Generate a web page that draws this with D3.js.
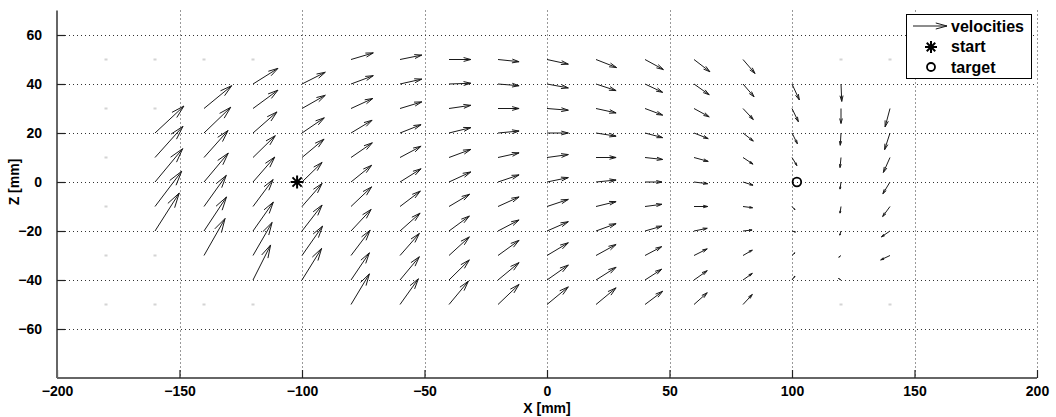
<!DOCTYPE html>
<html>
<head>
<meta charset="utf-8">
<style>
  body { margin: 0; background: #fff; }
  svg { display: block; font-family: 'Liberation Sans', Arial, sans-serif; }
  .tick-label { font-size: 14px; font-weight: bold; fill: #000; }
  .axis-title { font-size: 14px; font-weight: bold; fill: #000; }
  .legend-text { font-size: 16px; font-weight: bold; fill: #000; }
</style>
</head>
<body>
<svg width="1056" height="417"></svg>
<script src="https://d3js.org/d3.v7.min.js"></script>
<script>
// grid positions (mm)
let xs = [-180, -160, -140, -120, -100, -80, -60, -40, -20, 0, 20, 40, 60, 80, 100, 120, 140];
let zs = [50, 40, 30, 20, 10, 0, -10, -20, -30, -40, -50];

// drawn velocity components, one row per x column, entries follow zs
let U = [
  [0, 0, 0, 0, 0, 0, 0, 0, 0, 0, 0],
  [0, 0, 0, 11.8, 11.4, 11.3, 10.9, 9.9, 0, 0, 0],
  [0, 0, 11.3, 10.9, 9.8, 9.9, 9.1, 9.2, 8.6, 0, 0],
  [0, 10.2, 10.2, 9.8, 9.1, 8.9, 8.2, 8.3, 7.8, 7.2, 0],
  [0, 9.5, 9.5, 9.1, 9.0, 8.2, 8.2, 8.2, 8.4, 8.0, 0],
  [9.1, 9.1, 8.9, 8.6, 8.7, 8.4, 8.4, 8.2, 7.8, 7.5, 7.5],
  [8.9, 8.9, 8.9, 8.6, 8.6, 8.6, 8.3, 8.2, 7.9, 7.9, 7.5],
  [8.9, 8.9, 8.9, 8.9, 8.9, 8.9, 8.4, 8.3, 8.3, 8.3, 7.9],
  [8.6, 8.6, 8.6, 8.6, 8.6, 8.6, 8.6, 8.6, 8.6, 8.6, 8.6],
  [8.7, 8.7, 8.7, 8.7, 8.7, 8.7, 8.7, 8.7, 8.7, 8.7, 8.7],
  [8.4, 8.2, 8.2, 8.2, 8.2, 8.2, 8.2, 8.2, 8.2, 8.2, 8.2],
  [7.5, 7.2, 7.2, 7.2, 7.2, 6.9, 6.9, 6.9, 6.8, 6.8, 7.2],
  [6.5, 6.2, 6.2, 5.8, 5.8, 5.6, 5.6, 5.4, 5.4, 5.4, 5.4],
  [4.9, 4.5, 4.2, 4.2, 4.1, 4.1, 3.9, 3.7, 3.8, 3.8, 3.8],
  [0, 3.0, 2.6, 2.2, 2.0, 0, 1.2, 1.4, 1.2, 1.2, 0],
  [0, 0.3, 0, -0.3, -0.4, -0.4, -0.4, -0.5, -0.9, -1.0, 0],
  [0, 0, -2.0, -2.2, -2.7, -2.9, -3.0, -3.5, -3.8, 0, 0]
];
let V = [
  [0, 0, 0, 0, 0, 0, 0, 0, 0, 0, 0],
  [0, 0, 0, 11.0, 12.7, 13.6, 14.4, 15.5, 0, 0, 0],
  [0, 0, 9.3, 10.5, 11.0, 11.8, 12.7, 13.9, 15.1, 0, 0],
  [0, 6.4, 7.5, 8.6, 8.9, 10.2, 11.0, 11.8, 13.5, 14.3, 0],
  [0, 4.8, 5.4, 6.2, 7.5, 8.0, 9.4, 10.6, 12.0, 12.9, 0],
  [2.7, 3.4, 4.1, 5.2, 6.0, 6.8, 8.0, 8.8, 10.3, 11.1, 12.5],
  [1.8, 2.0, 2.7, 3.4, 4.6, 5.4, 6.3, 7.3, 9.0, 9.5, 10.5],
  [0, 0.3, 1.3, 2.2, 3.3, 4.1, 5.0, 6.1, 7.6, 8.2, 9.5],
  [-0.9, -0.7, 0, 0.8, 1.9, 2.9, 3.9, 4.5, 6.2, 7.1, 8.2],
  [-1.9, -1.6, -0.7, 0, 1.2, 1.8, 2.9, 3.8, 5.2, 6.1, 7.2],
  [-3.3, -2.7, -1.8, -1.3, 0, 0.8, 2.0, 3.0, 4.5, 5.2, 6.8],
  [-4.1, -3.4, -2.7, -1.9, -0.8, 0, 0.9, 2.0, 3.6, 4.4, 5.4],
  [-5.0, -4.4, -3.4, -2.3, -1.6, -0.7, 0, 1.1, 2.7, 3.8, 4.8],
  [-5.7, -5.2, -4.5, -3.3, -2.7, -1.3, -0.5, 0.4, 2.2, 2.7, 4.1],
  [0, -6.5, -5.4, -4.4, -3.3, 0, -1.3, -0.4, 1.1, 1.6, 0],
  [0, -7.1, -6.1, -5.0, -4.1, -2.9, -2.7, -1.7, -0.7, 0.6, 0],
  [0, 0, -7.5, -6.8, -6.1, -4.8, -4.1, -2.4, -1.8, 0, 0]
];

let start = [-102, 0];
let target = [102, 0];

let xTicks = [-200, -150, -100, -50, 0, 50, 100, 150, 200];
let zTicks = [-60, -40, -20, 0, 20, 40, 60];
let legendLabels = ["velocities", "start", "target"];

let svg = d3.select("svg");

let x = d3.scaleLinear().domain([-200, 200]).range([57, 1037]);
let y = d3.scaleLinear().domain([-80, 70]).range([378, 10.5]);

// grid
let grid = svg.append("g")
  .attr("stroke", "#333")
  .attr("stroke-width", 1)
  .attr("stroke-dasharray", "1,3");
grid.selectAll(".gx").data(xTicks.slice(1)).join("line")
  .attr("x1", d => Math.round(x(d)) + 0.5).attr("x2", d => Math.round(x(d)) + 0.5)
  .attr("y1", y(70)).attr("y2", y(-80));
grid.selectAll(".gy").data(zTicks).join("line")
  .attr("x1", x(-200)).attr("x2", x(200))
  .attr("y1", d => Math.round(y(d)) + 0.5).attr("y2", d => Math.round(y(d)) + 0.5);

// axes (inward ticks)
let xAxis = d3.axisBottom(x).tickValues(xTicks).tickSize(-8).tickPadding(8).tickFormat(d3.format("d"));
let yAxis = d3.axisLeft(y).tickValues(zTicks).tickSize(-8).tickPadding(15).tickFormat(d3.format("d"));

let gx = svg.append("g").attr("transform", `translate(0,${y(-80)})`).call(xAxis);
gx.select(".domain").attr("d", `M${x(-200)},0H${x(200)}`);
let gy = svg.append("g").attr("transform", `translate(${x(-200)},0)`).call(yAxis);
gy.select(".domain").attr("d", `M0,${y(70)}V${y(-80)}`);
svg.selectAll(".domain").attr("stroke", "#666").attr("stroke-width", 2);
svg.selectAll(".tick line").attr("stroke", "#222").attr("stroke-width", 1.2);
svg.selectAll(".tick text").attr("class", "tick-label").attr("font-family", null).attr("font-size", null);

// axis titles
svg.append("text").attr("class", "axis-title")
  .attr("x", x(0)).attr("y", 413)
  .attr("text-anchor", "middle").text("X [mm]");
svg.append("text").attr("class", "axis-title")
  .attr("transform", `translate(19,${y(0)}) rotate(-90)`)
  .attr("text-anchor", "middle").text("Z [mm]");

// quiver data
let vectors = [];
xs.forEach((xv, i) => {
  zs.forEach((zv, j) => {
    vectors.push({ x: xv, z: zv, u: U[i][j], v: V[i][j], row: j });
  });
});

function arrowPath(x0, y0, x1, y1) {
  let dx = x1 - x0, dy = y1 - y0;
  let a = 0.33, b = 0.27;
  let p1x = x1 - a * (dx + b * dy), p1y = y1 - a * (dy - b * dx);
  let p2x = x1 - a * (dx - b * dy), p2y = y1 - a * (dy + b * dx);
  return `M${x0},${y0}L${x1},${y1}M${p1x},${p1y}L${x1},${y1}L${p2x},${p2y}`;
}

let arrows = svg.append("g");
arrows.selectAll("path")
  .data(vectors.filter(d => d.u !== 0 || d.v !== 0))
  .join("path")
  .attr("d", d => arrowPath(x(d.x), y(d.z), x(d.x + d.u), y(d.z + d.v)))
  .attr("fill", "none")
  .attr("stroke", "#1a1a1a")
  .attr("stroke-width", 1);

// zero-velocity samples show as faint specks
arrows.selectAll("rect")
  .data(vectors.filter(d => d.u === 0 && d.v === 0 && d.row % 2 === 0 && d.x !== -100 && d.x !== 100))
  .join("rect")
  .attr("x", d => x(d.x) - 1.5).attr("y", d => y(d.z) - 1)
  .attr("width", 3).attr("height", 2)
  .attr("fill", "#d4d4d4");

function star(g, cx, cy, r) {
  let p = "";
  [0, 45, 90, 135].forEach(a => {
    let t = a * Math.PI / 180;
    p += `M${cx - r * Math.cos(t)},${cy - r * Math.sin(t)}L${cx + r * Math.cos(t)},${cy + r * Math.sin(t)}`;
  });
  g.append("path").attr("d", p).attr("stroke", "#000").attr("stroke-width", 2).attr("fill", "none");
}

star(svg, x(start[0]), y(start[1]), 6.5);
svg.append("circle").attr("cx", x(target[0])).attr("cy", y(target[1])).attr("r", 4.3)
  .attr("fill", "none").attr("stroke", "#000").attr("stroke-width", 1.8);

// legend
let lg = svg.append("g");
lg.append("rect").attr("x", 906.5).attr("y", 14.5).attr("width", 125).attr("height", 64)
  .attr("fill", "#fff").attr("stroke", "#000").attr("stroke-width", 1);
lg.append("path").attr("d", arrowPath(913, 26, 947, 26))
  .attr("fill", "none").attr("stroke", "#1a1a1a").attr("stroke-width", 1);
star(lg, 931, 47, 6);
lg.append("circle").attr("cx", 931).attr("cy", 67).attr("r", 4).attr("fill", "none")
  .attr("stroke", "#000").attr("stroke-width", 1.8);
lg.selectAll("text").data(legendLabels).join("text")
  .attr("class", "legend-text")
  .attr("x", 951).attr("y", (d, i) => 31.5 + i * 20.5)
  .text(d => d);
</script>
</body>
</html>
